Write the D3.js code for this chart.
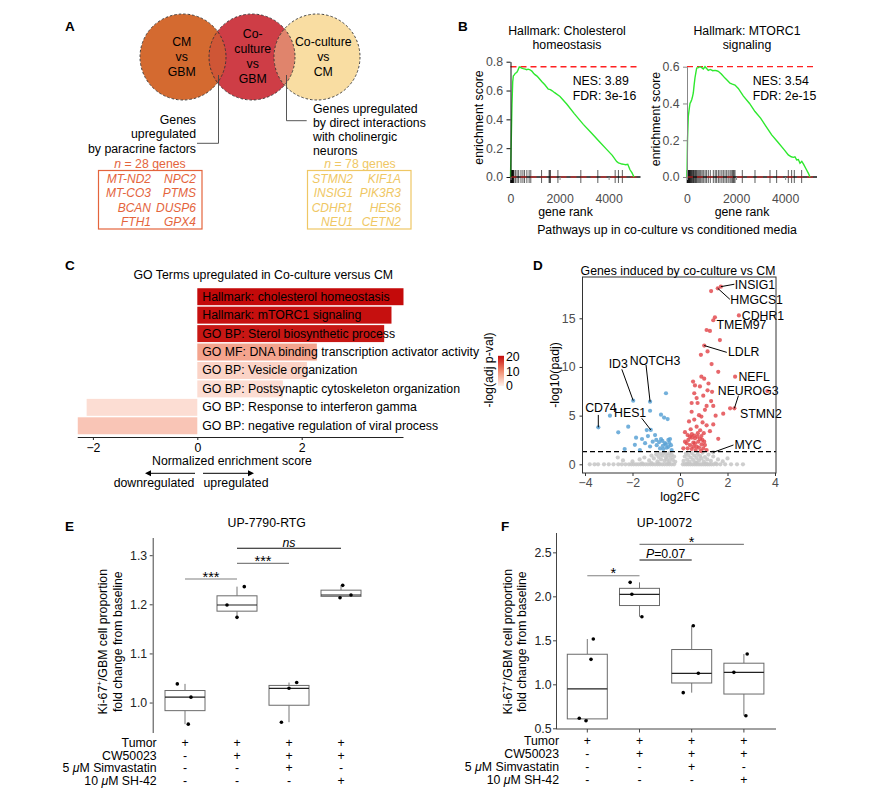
<!DOCTYPE html>
<html><head><meta charset="utf-8">
<script src="https://cdn.jsdelivr.net/npm/d3@7/dist/d3.min.js"></script>
<style>
html,body{margin:0;padding:0;background:#fff;}
svg text{font-family:"Liberation Sans",Arial,Helvetica,sans-serif;}
</style></head><body>
<svg id="fig" width="879" height="804"></svg>
<script>
// ================= DATA =================
// Panel A
const vennLeft = ["CM","vs","GBM"];
const vennMid = ["Co-","culture","vs","GBM"];
const vennRight = ["Co-culture","vs","CM"];
const paracrineText = ["Genes","upregulated","by paracrine factors"];
const directText = ["Genes upregulated","by direct interactions","with cholinergic","neurons"];
const paracrineN = 28, directN = 78;
const paracrineGenes = [["MT-ND2","NPC2"],["MT-CO3","PTMS"],["BCAN","DUSP6"],["FTH1","GPX4"]];
const directGenes = [["STMN2","KIF1A"],["INSIG1","PIK3R3"],["CDHR1","HES6"],["NEU1","CETN2"]];

// Panel B
const gseaTitles = [["Hallmark: Cholesterol","homeostasis"],["Hallmark: MTORC1","signaling"]];
const gseaNES = ["3.89","3.54"];
const gseaFDR = ["3e-16","2e-15"];
const gseaMax = [0.765, 0.60];
const rankTicks = [0, 2000, 4000];
const cholRank = [0,30,60,90,114,160,200,253,300,359,400,457,520,600,660,720,795,870,940,999,1080,1160,1272,1400,1541,1600,1639,1700,1800,2018,2300,2600,2968,3300,3600,3900,4150,4329,4400,4464,4540,4627,4700,4780,4872,4950,5035];
const cholES   = [0,0.25,0.5,0.66,0.70,0.71,0.72,0.725,0.74,0.763,0.76,0.756,0.752,0.748,0.744,0.748,0.744,0.735,0.72,0.71,0.70,0.685,0.663,0.64,0.61,0.608,0.605,0.598,0.585,0.559,0.505,0.44,0.365,0.305,0.25,0.195,0.15,0.107,0.098,0.095,0.09,0.088,0.085,0.088,0.05,0.03,0];
const cholHits = [5,15,25,35,45,55,65,75,85,95,110,125,140,200,267,333,427,507,573,667,760,827,1267,1573,1600,1627,1933,2867,3560,4267,4400,4560];
const mtorRank = [0,20,53,90,122,160,192,230,257,290,326,360,395,460,530,600,664,734,800,868,950,1050,1141,1210,1276,1400,1549,1650,1753,1850,1957,2091,2300,2550,2772,3000,3200,3453,3700,3950,4130,4250,4334,4400,4472,4540,4607,4680,4750,4850,4950,5014];
const mtorES   = [0,0.2,0.33,0.37,0.40,0.41,0.42,0.44,0.457,0.50,0.54,0.566,0.593,0.595,0.60,0.595,0.588,0.60,0.59,0.58,0.585,0.578,0.58,0.578,0.575,0.56,0.538,0.525,0.51,0.505,0.50,0.482,0.44,0.40,0.356,0.32,0.28,0.229,0.19,0.15,0.12,0.11,0.107,0.11,0.093,0.095,0.075,0.085,0.07,0.045,0.02,0];
const mtorHits = [5,15,28,40,55,70,85,100,115,130,150,170,190,215,240,265,290,320,350,380,410,450,490,530,570,620,680,740,800,870,950,1073,1150,1209,1280,1345,1420,1481,1550,1617,1680,1753,1800,1850,1889,1920,1957,2255,2772,3384,3655,4130,4266,4375,4674];

// Panel C
const goTerms = ["Hallmark: cholesterol homeostasis","Hallmark: mTORC1 signaling","GO BP: Sterol biosynthetic process","GO MF: DNA binding transcription activator activity","GO BP: Vesicle organization","GO BP: Postsynaptic cytoskeleton organization","GO BP: Response to interferon gamma","GO BP: negative regulation of viral process"];
const goNES = [3.95, 3.72, 3.58, 2.29, 2.10, 1.64, -2.12, -2.29];
const goLogP = [20, 19.5, 19, 7.5, 3, 2, 2, 4.3];
const goTicks = [-2, 0, 2];
const legendTicks = [0, 10, 20];

// Panel D
const volcanoGray = [[-3.8,0],[-3.6,0],[-3.45,0],[-3.2,0],[-3.0,0],[-2.8,0],[-2.6,0],[-2.45,0],[-2.3,0],[-2.15,0],[-2.05,0],[-1.95,0],[-1.85,0],[-1.75,0],[-1.65,0],[-1.55,0],[-1.45,0],[-1.35,0],[-1.25,0],[-1.15,0],[-1.05,0],[-0.95,0],[-0.85,0],[-0.75,0],[-0.65,0],[-0.55,0],[-0.45,0],[-0.35,0],[-0.25,0],[0.12,0],[0.2,0],[0.28,0],[0.36,0],[0.44,0],[0.52,0],[0.6,0],[0.68,0],[0.76,0],[0.84,0],[0.92,0],[1.0,0],[1.08,0],[1.16,0],[1.24,0],[1.32,0],[1.42,0],[1.55,0],[1.7,0],[1.9,0],[2.15,0],[2.4,0],[2.65,0],
[-1.6,0.1],[-1.2,0.12],[-0.9,0.08],[-0.5,0.1],[0.3,0.1],[0.7,0.12],[1.1,0.08],[1.5,0.1],
[-2.62,0.7],[-2.4,0.4],[-2.0,0.3],[-1.7,0.5],[-1.5,0.7],[-1.3,0.4],[-1.2,0.9],[-1.1,0.6],[-1.0,1.0],[-0.95,0.3],[-0.9,0.75],[-0.85,1.1],[-0.8,0.5],[-0.75,0.9],[-0.7,1.2],[-0.65,0.35],[-0.6,0.7],[-0.6,1.05],[-0.55,0.5],[-0.5,0.9],[-0.45,1.15],[-0.45,0.3],[-0.4,0.65],[-0.35,1.0],[-0.3,0.45],[-0.25,0.8],[-0.2,0.25],[0.15,0.35],[0.2,0.8],[0.25,1.1],[0.3,0.5],[0.35,0.95],[0.4,0.25],[0.45,0.7],[0.5,1.15],[0.55,0.45],[0.6,0.9],[0.65,0.2],[0.7,0.65],[0.75,1.05],[0.8,0.4],[0.85,0.85],[0.9,0.6],[0.95,1.2],[1.0,0.3],[1.05,0.75],[1.15,0.5],[1.2,1.0],[1.3,0.35],[1.4,1.23],[1.4,0.8],[1.6,0.5],[1.8,0.3],[2.0,0.6]];
const volcanoBlue = [[-3.44,3.8],[-2.95,5.0],[-1.97,6.54],[-1.26,6.43],[-1.23,3.53],[-0.59,7.3],[-1.26,5.5],[-0.8,5.1],[-0.67,4.8],[-0.52,4.65],[-2.18,3.87],[-1.4,3.52],[-2.6,3.29],[-1.85,2.74],[-2.33,1.57],[-1.69,1.47],[-1.05,3.0],[-1.15,2.32],[-0.98,1.97],[-0.74,2.4],[-0.63,2.17],[-0.49,2.5],[-0.38,1.97],[-0.84,1.63],[-0.70,1.57],[-0.56,1.7],[-0.35,1.47],[-0.88,2.28],[-1.47,2.17],[-1.26,1.83],[-1.9,2.0],[-1.0,2.5],[-0.42,2.6],[-0.49,1.8],[-0.6,2.05],[-0.72,1.9],[-0.45,2.2],[-0.8,2.6],[-1.6,2.6],[-1.35,2.9]];
const volcanoRed = [[1.31,17.8],[1.59,18.08],[1.72,18.25],[2.48,15.3],[1.4,14.8],[1.47,15.1],[1.12,13.8],[1.26,13.7],[1.68,12.76],[1.02,12.2],[1.16,11.6],[0.88,11.25],[1.33,10.3],[1.61,9.5],[2.32,9.0],[0.9,9.0],[1.02,8.8],[0.63,8.1],[0.84,8.0],[1.16,7.6],[1.35,7.45],[3.68,7.53],[0.6,7.3],[0.98,7.05],[0.49,6.3],[0.74,6.3],[1.12,6.0],[1.4,6.0],[1.31,6.5],[2.11,5.75],[2.29,5.75],[1.82,5.2],[0.49,5.4],[0.8,5.05],[0.9,4.9],[0.38,4.4],[1.4,4.1],[1.12,4.0],[1.26,3.4],[0.7,3.87],[0.21,3.3],[1.61,2.62],[0.32,3.0],
[0.55,8.5],[1.2,8.3],[0.7,6.8],[1.05,5.6],[0.6,4.6],[1.5,5.0],[0.95,4.3],[0.45,3.6],[1.0,3.2],[0.85,3.5],
[0.21,2.32],[0.35,2.5],[0.42,1.98],[0.49,2.74],[0.56,2.22],[0.63,2.67],[0.70,1.81],[0.77,2.32],[0.84,2.6],[0.91,2.05],[0.98,1.64],[0.32,1.64],[0.49,1.57],[0.66,1.47],[0.80,1.71],[0.88,1.37],[0.42,2.84],[0.74,2.84],[1.05,1.98],[0.56,1.81],[0.28,2.15],[0.94,2.5],[1.12,1.47],[1.02,2.32],[0.63,2.15],[0.14,1.64],[0.5,3.1],[0.75,3.2],[0.6,2.95],[0.9,2.9]];
const volcanoLabels = [
  {gene:"INSIG1", pt:[1.72,18.25], end:[2.29,18.5], at:[2.31,18.45], anchor:"start"},
  {gene:"HMGCS1", pt:[1.59,18.08], end:[2.1,16.95], at:[2.12,16.9], anchor:"start"},
  {gene:"CDHR1",  pt:null, end:null, at:[2.6,15.24], anchor:"start"},
  {gene:"TMEM97", pt:null, end:null, at:[1.54,14.3], anchor:"start"},
  {gene:"LDLR",   pt:[1.02,12.2], end:[1.97,11.5], at:[2.02,11.5], anchor:"start"},
  {gene:"NEFL",   pt:null, end:null, at:[2.46,9.0], anchor:"start"},
  {gene:"NEUROG3",pt:[2.29,5.75], end:[2.46,7.05], at:[1.59,7.53], anchor:"start"},
  {gene:"STMN2",  pt:null, end:null, at:[2.53,5.14], anchor:"start"},
  {gene:"MYC",    pt:[1.4,1.23], end:[2.25,1.98], at:[2.29,1.98], anchor:"start"},
  {gene:"CD74",   pt:[-3.44,3.8], end:[-3.44,5.07], at:[-3.33,5.75], anchor:"middle"},
  {gene:"ID3",    pt:[-1.97,6.54], end:[-2.45,9.76], at:[-2.6,10.28], anchor:"middle"},
  {gene:"NOTCH3", pt:[-1.26,6.43], end:[-1.43,10.2], at:[-1.05,10.6], anchor:"middle"},
  {gene:"HES1",   pt:[-1.23,3.53], end:[-1.61,4.73], at:[-2.1,5.3], anchor:"middle"}
];
const volcanoXTicks = [-4,-2,0,2,4];
const volcanoYTicks = [0,5,10,15];
const padjThreshold = 1.3;

// Panels E & F
const conditionRows = ["Tumor","CW50023","5 \u03BCM Simvastatin","10 \u03BCM SH-42"];
const conditionSigns = [["+","+","+","+"],["-","+","+","+"],["-","-","+","-"],["-","-","-","+"]];
const valuesE = [[1.038,1.011,0.956],[1.1986,1.236,1.1735],[1.029,1.0407,0.960],[1.2386,1.2134,1.219]];
const jitterE = [[-0.148,0.115,0.063],[-0.192,0.14,0],[0,0.148,-0.146],[0.033,-0.019,0.192]];
const ticksE = [1.0,1.1,1.2,1.3];
const sigE = [{from:0,to:1,y:1.2514,label:"***"},{from:1,to:2,y:1.2833,label:"***"},{from:1,to:3,y:1.314,label:"ns"}];
const valuesF = [[1.515,1.284,0.614,0.586],[2.159,2.023,1.768],[1.666,1.125,0.905],[1.344,1.136,0.643]];
const jitterF = [[0.115,0.071,-0.154,-0.025],[-0.179,-0.146,0.046],[0.031,0.127,-0.162],[0.063,-0.192,0.038]];
const ticksF = [0.5,1.0,1.5,2.0,2.5];
const sigF = [{from:0,to:1,y:2.234,label:"*"},{from:1,to:2,y:2.413,label:"P=0.07"},{from:1,to:3,y:2.591,label:"*"}];

// ================= DRAWING =================
const svg = d3.select("#fig");
const FS = 12.3;
function T(g, x, y, s, o = {}) {
  const t = g.append("text").attr("x", x).attr("y", y).text(s)
    .attr("font-size", o.size || FS).attr("fill", o.fill || "#000")
    .attr("text-anchor", o.anchor || "start");
  if (o.bold) t.attr("font-weight", "bold");
  if (o.italic) t.attr("font-style", "italic");
  if (o.base) t.attr("dominant-baseline", o.base);
  return t;
}
function styleAxis(g, color, textColor) {
  g.attr("font-family", null).attr("font-size", FS);
  g.selectAll("path.domain").attr("stroke", color);
  g.selectAll(".tick line").attr("stroke", color);
  g.selectAll(".tick text").attr("fill", textColor);
}

// Panel labels
[["A",65,31],["B",458,31],["C",65,270],["D",533,270],["E",65,531],["F",501,531]].forEach(([l,x,y]) =>
  T(svg, x, y, l, {bold:true, size:13.5}));

// ---------- Panel A ----------
(function(){
  const g = svg.append("g");
  const cy = 57, r = 43, cxs = [183, 252, 317];
  const fills = ["#D46A30", "#CE3D46", "#F9DDA2"];
  const defs = svg.append("defs");
  cxs.forEach((cx,i) => defs.append("clipPath").attr("id","vc"+i).append("circle").attr("cx",cx).attr("cy",cy).attr("r",r));
  cxs.forEach((cx,i) => g.append("circle").attr("cx",cx).attr("cy",cy).attr("r",r).attr("fill",fills[i]));
  g.append("g").attr("clip-path","url(#vc0)").append("circle").attr("cx",cxs[1]).attr("cy",cy).attr("r",r).attr("fill","#CF5636");
  g.append("g").attr("clip-path","url(#vc1)").append("circle").attr("cx",cxs[2]).attr("cy",cy).attr("r",r).attr("fill","#E0846C");
  cxs.forEach(cx => g.append("circle").attr("cx",cx).attr("cy",cy).attr("r",r).attr("fill","none")
    .attr("stroke","#333").attr("stroke-width",0.9).attr("stroke-dasharray","2.5,2"));
  vennLeft.forEach((s,i) => T(g, 181.7, 46 + i*15, s, {anchor:"middle"}));
  vennMid.forEach((s,i) => T(g, 252.7, 38 + i*15, s, {anchor:"middle"}));
  vennRight.forEach((s,i) => T(g, 323.3, 46 + i*15, s, {anchor:"middle"}));
  g.append("path").attr("d","M218.5,75V143.3H197").attr("fill","none").attr("stroke","#444").attr("stroke-width",0.9);
  g.append("path").attr("d","M286.5,75V120.7H306.7").attr("fill","none").attr("stroke","#444").attr("stroke-width",0.9);
  paracrineText.forEach((s,i) => T(g, 196, 123.5 + i*14.5, s, {anchor:"end"}));
  directText.forEach((s,i) => T(g, 313, 112.5 + i*14.3, s));
  const cL = "#E4643C", cR = "#EFC764";
  function nText(x, n, col) {
    const t = g.append("text").attr("x", x).attr("y", 168).attr("text-anchor","middle").attr("font-size",FS).attr("fill",col);
    t.append("tspan").attr("font-style","italic").text("n");
    t.append("tspan").text(" = " + n + " genes");
  }
  nText(150, paracrineN, cL);
  nText(360, directN, cR);
  g.append("rect").attr("x",98.5).attr("y",170.5).attr("width",103.5).attr("height",58.5).attr("fill","none").attr("stroke",cL).attr("stroke-width",1.2);
  g.append("rect").attr("x",307.5).attr("y",170.5).attr("width",103.5).attr("height",58.5).attr("fill","none").attr("stroke",cR).attr("stroke-width",1.2);
  paracrineGenes.forEach((row,i) => {
    T(g, 151, 182.5 + i*14.5, row[0], {anchor:"end", italic:true, fill:cL, size:12});
    T(g, 196, 182.5 + i*14.5, row[1], {anchor:"end", italic:true, fill:cL, size:12});
  });
  directGenes.forEach((row,i) => {
    T(g, 353, 182.5 + i*14.5, row[0], {anchor:"end", italic:true, fill:cR, size:12});
    T(g, 401, 182.5 + i*14.5, row[1], {anchor:"end", italic:true, fill:cR, size:12});
  });
})();

// ---------- Panel B ----------
function drawGSEA(k, x0, yMax, yTop, yTicks, rank, es, hits, titleX, nesX, ylabX, axisCol) {
  const g = svg.append("g");
  const x = d3.scaleLinear().domain([0, 5300]).range([x0, x0 + 130]);
  const y = d3.scaleLinear().domain([0, yMax]).range([177, yTop]);
  gseaTitles[k].forEach((s,i) => T(g, titleX, 35 + i*13.5, s, {anchor:"middle"}));
  g.selectAll("line.hit").data(hits).join("line").attr("class","hit")
    .attr("x1", d => x(d)).attr("x2", d => x(d)).attr("y1", y(0) - 7).attr("y2", y(0) + 6)
    .attr("stroke", "#000").attr("stroke-width", 0.8).attr("stroke-opacity", 0.8);
  g.append("line").attr("x1", x(0)).attr("x2", x(5300)).attr("y1", y(0)).attr("y2", y(0)).attr("stroke","#111").attr("stroke-width",1.6);
  [gseaMax[k], 0].forEach(v => g.append("line").attr("x1", x(0)).attr("x2", x(5300)).attr("y1", y(v)).attr("y2", y(v))
    .attr("stroke", "#ff2020").attr("stroke-width", 1.3).attr("stroke-dasharray", "6,4").attr("stroke-opacity", v === 0 ? 0.6 : 1));
  const ln = d3.line().x((d,i) => x(rank[i])).y(d => y(d));
  g.append("path").datum(es).attr("d", ln).attr("fill","none").attr("stroke","#2DE82D").attr("stroke-width",1.4);
  const ya = g.append("g").attr("transform", `translate(${x0},0)`)
    .call(d3.axisLeft(y).tickValues(yTicks).tickFormat(d3.format(".1f")).tickSize(4).tickPadding(3.5).tickSizeOuter(0));
  styleAxis(ya, axisCol, "#4D4D4D");
  const xa = g.append("g").attr("transform", `translate(0,177)`)
    .call(d3.axisBottom(x).tickValues(rankTicks).tickFormat(d3.format("d")).tickSize(3).tickPadding(14.5));
  xa.select("path.domain").remove();
  styleAxis(xa, "#888", "#4D4D4D");
  T(g, nesX, 84.5, "NES: " + gseaNES[k]);
  T(g, nesX, 99.5, "FDR: " + gseaFDR[k]);
  T(g, x0 + 55, 216, "gene rank", {anchor:"middle"});
  g.append("text").attr("transform", `translate(${ylabX},${k===0?117.5:119}) rotate(-90)`)
    .attr("text-anchor","middle").attr("dominant-baseline","central").attr("font-size",FS).text("enrichment score");
}
drawGSEA(0, 510.5, 0.8, 61.7, [0,0.2,0.4,0.6,0.8], cholRank, cholES, cholHits, 567, 572.7, 479, "#111");
drawGSEA(1, 687, 0.6, 66.7, [0,0.2,0.4,0.6], mtorRank, mtorES, mtorHits, 747, 752.7, 656, "#888");
T(svg, 667, 234, "Pathways up in co-culture vs conditioned media", {anchor:"middle"});

// ---------- Panel C ----------
(function(){
  const g = svg.append("g");
  const x = d3.scaleLinear().domain([-2, 2]).range([92.9, 301.7]);
  const y = d3.scaleBand().domain(goTerms).range([287.5, 435]).paddingInner(0.08).paddingOuter(0.04);
  const col = d3.scaleLinear().domain([0, 10, 20]).range(["#FFF2EC", "#F08A6E", "#C40A0A"]);
  T(g, 263.3, 279, "GO Terms upregulated in Co-culture versus CM", {anchor:"middle"});
  g.selectAll("rect.bar").data(goTerms).join("rect").attr("class","bar")
    .attr("x", (d,i) => x(Math.min(0, goNES[i]))).attr("width", (d,i) => Math.abs(x(goNES[i]) - x(0)))
    .attr("y", d => y(d)).attr("height", y.bandwidth()).attr("fill", (d,i) => col(goLogP[i]));
  g.selectAll("text.lab").data(goTerms).join("text").attr("class","lab")
    .attr("x", x(0) + 5).attr("y", d => y(d) + y.bandwidth()/2).attr("dominant-baseline","central")
    .attr("font-size", FS).text(d => d);
  const xa = g.append("g").attr("transform","translate(0,437)")
    .call(d3.axisBottom(x).tickValues(goTicks).tickFormat(d => d < 0 ? "\u2212" + Math.abs(d) : d).tickSize(3).tickPadding(3).tickSizeOuter(0));
  xa.select("path.domain").attr("d", `M${x(d3.min(goNES))},0.5H${x(d3.max(goNES))}`);
  styleAxis(xa, "#222", "#000");
  T(g, 232, 464.5, "Normalized enrichment score", {anchor:"middle"});
  g.append("line").attr("x1",195).attr("x2",149).attr("y1",473.3).attr("y2",473.3).attr("stroke","#000").attr("stroke-width",1);
  g.append("path").attr("d","M145,473.3l6,-3v6z").attr("fill","#000");
  g.append("line").attr("x1",203).attr("x2",250).attr("y1",473.3).attr("y2",473.3).attr("stroke","#000").attr("stroke-width",1);
  g.append("path").attr("d","M254,473.3l-6,-3v6z").attr("fill","#000");
  T(g, 154, 487, "downregulated", {anchor:"middle"});
  T(g, 236, 487, "upregulated", {anchor:"middle"});
  // legend
  const defs = svg.append("defs");
  const grad = defs.append("linearGradient").attr("id","cbar").attr("x1",0).attr("x2",0).attr("y1",1).attr("y2",0);
  [0,5,10,15,20].forEach(v => grad.append("stop").attr("offset", v/20).attr("stop-color", col(v)));
  const ly = d3.scaleLinear().domain([0, 20]).range([386, 357.3]);
  g.append("rect").attr("x",498).attr("y",ly(20) - 1.5).attr("width",6).attr("height",ly(0) - ly(20) + 1.5).attr("fill","url(#cbar)");
  legendTicks.forEach(v => T(g, 506, ly(v), v, {base:"central"}));
  g.append("text").attr("transform","translate(489,370) rotate(-90)").attr("text-anchor","middle")
    .attr("dominant-baseline","central").attr("font-size",FS).text("-log(adj p-val)");
})();

// ---------- Panel D ----------
(function(){
  const g = svg.append("g");
  const x = d3.scaleLinear().domain([-4, 4]).range([585, 775]);
  const y = d3.scaleLinear().domain([0, 15]).range([464.3, 318.3]);
  T(g, 678, 274.5, "Genes induced by co-culture vs CM", {anchor:"middle"});
  const dot = (data, fill, op) => g.append("g").selectAll("circle").data(data).join("circle")
    .attr("cx", d => x(d[0])).attr("cy", d => y(d[1])).attr("r", 2.1).attr("fill", fill).attr("fill-opacity", op);
  dot(volcanoGray, "#C6C6C6", 0.85);
  dot(volcanoBlue, "#5AA2D5", 0.85);
  dot(volcanoRed, "#E2454B", 0.82);
  g.append("line").attr("x1",582).attr("x2",776).attr("y1",y(padjThreshold)).attr("y2",y(padjThreshold))
    .attr("stroke","#000").attr("stroke-width",1.3).attr("stroke-dasharray","5,3");
  volcanoLabels.forEach(L => {
    if (L.pt) g.append("line").attr("x1",x(L.pt[0])).attr("y1",y(L.pt[1])).attr("x2",x(L.end[0])).attr("y2",y(L.end[1]))
      .attr("stroke","#000").attr("stroke-width",1);
    T(g, x(L.at[0]), y(L.at[1]), L.gene, {anchor:L.anchor, base:"central"});
  });
  g.append("rect").attr("x",582.5).attr("y",277).attr("width",193.5).attr("height",196).attr("fill","none").attr("stroke","#333").attr("stroke-width",1);
  const ya = g.append("g").attr("transform","translate(582.5,0)").call(d3.axisLeft(y).tickValues(volcanoYTicks).tickSize(3).tickPadding(4));
  ya.select("path.domain").remove(); styleAxis(ya, "#333", "#4D4D4D");
  const xa = g.append("g").attr("transform","translate(0,473)").call(d3.axisBottom(x).tickValues(volcanoXTicks).tickFormat(d => d < 0 ? "\u2212" + Math.abs(d) : d).tickSize(3).tickPadding(2.5));
  xa.select("path.domain").remove(); styleAxis(xa, "#333", "#4D4D4D");
  T(g, 680, 501, "log2FC", {anchor:"middle"});
  g.append("text").attr("transform","translate(555,375) rotate(-90)").attr("text-anchor","middle")
    .attr("dominant-baseline","central").attr("font-size",FS).text("-log10(padj)");
})();

// ---------- Panels E & F ----------
function drawBoxPanel(o) {
  const g = svg.append("g");
  const x = d3.scaleBand().domain(d3.range(4)).range(o.xr);
  const y = d3.scaleLinear().domain(o.yd).range(o.yr);
  const cx = i => x(i) + x.bandwidth()/2;
  T(g, o.titleX, 527, o.title, {anchor:"middle"});
  o.vals.forEach((vals, i) => {
    const s = vals.slice().sort(d3.ascending);
    const q1 = d3.quantileSorted(s, 0.25), med = d3.quantileSorted(s, 0.5), q3 = d3.quantileSorted(s, 0.75);
    const iqr = q3 - q1;
    const lo = d3.min(s.filter(v => v >= q1 - 1.5*iqr)), hi = d3.max(s.filter(v => v <= q3 + 1.5*iqr));
    const c = cx(i), w = 40;
    g.append("line").attr("x1",c).attr("x2",c).attr("y1",y(hi)).attr("y2",y(q3)).attr("stroke","#777").attr("stroke-width",1);
    g.append("line").attr("x1",c).attr("x2",c).attr("y1",y(q1)).attr("y2",y(lo)).attr("stroke","#777").attr("stroke-width",1);
    g.append("rect").attr("x",c - w/2).attr("y",y(q3)).attr("width",w).attr("height",y(q1) - y(q3))
      .attr("fill","#fff").attr("stroke","#6a6a6a").attr("stroke-width",1);
    g.append("line").attr("x1",c - w/2).attr("x2",c + w/2).attr("y1",y(med)).attr("y2",y(med)).attr("stroke","#222").attr("stroke-width",1.2);
    vals.forEach((v,j) => g.append("circle").attr("cx", c + o.jit[i][j]*x.step()).attr("cy", y(v)).attr("r",1.8).attr("fill","#000"));
  });
  o.sig.forEach((s, k) => {
    const yy = y(s.y);
    g.append("line").attr("x1",cx(s.from)).attr("x2",cx(s.to)).attr("y1",yy).attr("y2",yy).attr("stroke",o.sigCol[k]).attr("stroke-width",1.1);
    const mx = (cx(s.from) + cx(s.to))/2;
    if (s.label.startsWith("*")) T(g, mx, yy + 2.5, s.label, {anchor:"middle", size:14.5});
    else if (s.label === "ns") T(g, mx, yy - 1.5, s.label, {anchor:"middle", italic:true});
    else {
      const t = g.append("text").attr("x",mx).attr("y",yy - 1.7).attr("text-anchor","middle").attr("font-size",FS);
      t.append("tspan").attr("font-style","italic").text(s.label.split("=")[0]);
      t.append("tspan").text("=" + s.label.split("=")[1]);
    }
  });
  const ya = g.append("g").attr("transform",`translate(${o.axisX},0)`)
    .call(d3.axisLeft(y).tickValues(o.ticks).tickFormat(d3.format(".1f")).tickSize(3).tickPadding(o.tickPad).tickSizeOuter(0));
  ya.select("path.domain").attr("d", `M0.5,${o.axisTop}V${o.axisBottom}`);
  styleAxis(ya, "#444", "#222");
  if (o.xAxis) {
    g.append("line").attr("x1",o.axisX).attr("x2",o.xAxisEnd).attr("y1",o.axisBottom).attr("y2",o.axisBottom).attr("stroke","#444").attr("stroke-width",1);
    d3.range(4).forEach(i => g.append("line").attr("x1",cx(i)).attr("x2",cx(i)).attr("y1",o.axisBottom).attr("y2",o.axisBottom + 3.5).attr("stroke","#444"));
  }
  conditionRows.forEach((r, ri) => {
    const t = g.append("text").attr("x", o.rowX).attr("y", o.rowY[ri]).attr("text-anchor","end")
      .attr("dominant-baseline","central").attr("font-size",FS);
    if (r.includes("\u03BC")) {
      const parts = r.split("\u03BC");
      t.append("tspan").text(parts[0]);
      t.append("tspan").attr("font-style","italic").text("\u03BC");
      t.append("tspan").text(parts[1]);
    } else t.text(r);
    conditionSigns[ri].forEach((sg, i) => T(g, cx(i), o.rowY[ri], sg, {anchor:"middle", base:"central"}));
  });
  const yl = g.append("text").attr("transform",`translate(${o.ylab1},641.7) rotate(-90)`).attr("text-anchor","middle")
    .attr("dominant-baseline","central").attr("font-size",FS);
  yl.append("tspan").text("Ki-67");
  yl.append("tspan").attr("font-size",8).attr("dy",-4).text("+");
  yl.append("tspan").attr("dy",4).text("/GBM cell proportion");
  g.append("text").attr("transform",`translate(${o.ylab2},641.7) rotate(-90)`).attr("text-anchor","middle")
    .attr("dominant-baseline","central").attr("font-size",FS).text("fold change from baseline");
}
drawBoxPanel({title:"UP-7790-RTG", titleX:266.7, vals:valuesE, jit:jitterE, ticks:ticksE, sig:sigE,
  sigCol:["#808080","#808080","#111"], xr:[159, 367], yd:[0.938, 1.335], yr:[733, 538], axisX:152.7, tickPad:2.5,
  axisTop:538, axisBottom:733, xAxis:false, rowX:156.7, rowY:[742.5, 755.5, 768.3, 781.2], ylab1:103.3, ylab2:118});
drawBoxPanel({title:"UP-10072", titleX:664.5, vals:valuesF, jit:jitterF, ticks:ticksF, sig:sigF,
  sigCol:["#808080","#111","#808080"], xr:[561.2, 770], yd:[0.5, 2.72], yr:[728.3, 533], axisX:556, tickPad:1.5,
  axisTop:533, axisBottom:729, xAxis:true, xAxisEnd:776, rowX:559, rowY:[741, 754, 766.8, 779.5], ylab1:508, ylab2:522});
</script>
</body></html>
